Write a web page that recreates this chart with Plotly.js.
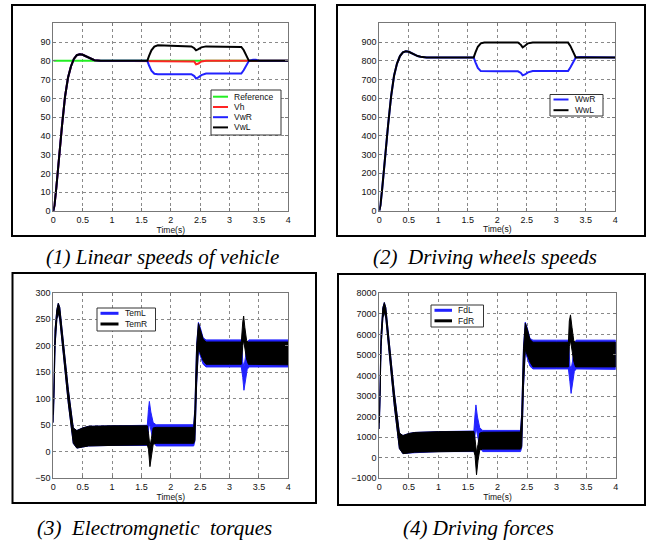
<!DOCTYPE html>
<html>
<head>
<meta charset="utf-8">
<script src="https://cdn.plot.ly/plotly-3.0.1.min.js"></script>
<style>html,body{margin:0;padding:0;background:#fff;}#chart{width:647px;height:540px;}</style>
</head>
<body>
<div id="chart"></div>
<script>
// ---------- DATA ----------
// (1) Linear speeds of vehicle
const spdTime = [0,0.02,0.05,0.1,0.15,0.2,0.25,0.3,0.35,0.4,0.45,0.5,0.55,0.6,0.65,0.7,0.8,1.0,1.6,1.63,1.67,1.72,1.78,2.0,2.35,2.4,2.43,2.47,2.52,2.6,3.0,3.2,3.24,3.28,3.33,3.4,3.45,3.5,4.0];
const refSpeed = [80,80,80,80,80,80,80,80,80,80,80,80,80,80,80,80,80,80,80,80,80,80,80,80,80,80,80,80,80,80,80,80,80,80,80,80,80,80,80];
const vh  = [0,3,12,30,46,61,71,77,81,83,83.5,83.2,82.4,81.5,80.8,80.3,80,80,80,80,80,80,80,80,80,79.6,78.2,78.6,79.7,80,80,80,80,80,80,80,80,80,80];
const vwR = [0,3,12,30,46,61,71,77,81,83,83.5,83.2,82.4,81.5,80.8,80.3,80,80,80,77.5,74.8,73.1,72.9,72.9,72.9,71.9,70.6,71.2,72.4,73.2,73.2,73.2,75,77.5,80,80.6,80.6,80,80];
const vwL = [0,3,12,30,46,61,71,77,81,83,83.5,83.2,82.4,81.5,80.8,80.3,80,80,80,82.6,85.6,87.6,88.3,88.1,87.7,86.7,85.6,86.2,87.2,87.7,87.6,87.4,85.8,83,80,80,80,80,80];
const speedNames = ["Reference","Vh","VwR","VwL"];

// (2) Driving wheels speeds
const wTime = [0,0.02,0.05,0.1,0.15,0.2,0.25,0.3,0.35,0.4,0.45,0.5,0.55,0.6,0.65,0.7,0.8,1.0,1.6,1.63,1.67,1.72,1.78,2.0,2.35,2.4,2.43,2.47,2.52,2.6,3.0,3.2,3.24,3.28,3.33,3.4,3.45,3.5,4.0];
const wwR = [0,30,120,300,460,610,720,785,825,845,851,848,840,832,825,821,818,818,818,792,762,745,744,744,744,735,722,727,738,745,745,745,765,792,818,820,820,818,818];
const wwL = [0,30,120,300,460,610,720,785,825,845,851,848,840,832,825,821,818,818,818,845,875,893,898,898,898,885,872,880,893,898,898,897,878,848,818,818,818,818,818];
const wheelNames = ["WwR","WwL"];

// (3) Electromagnetic torques (envelopes of the ripple band)
const temLTime  = [0,0.01,0.03,0.06,0.085,0.11,0.17,0.255,0.34,0.4,0.5,0.6,1.0,1.6,1.62,1.635,1.66,1.7,1.75,2.0,2.39,2.41,2.44,2.47,2.5,2.55,2.6,3.0,3.2,3.225,3.245,3.27,3.3,3.33,3.6,4.0];
const temLUpper = [70,150,230,268,280,272,210,118,45,40,45,48,49,50,80,95,75,55,51,51,51,82,202,244,235,215,211,211,211,170,160,178,205,211,211,211];
const temLLower = [55,120,200,250,262,250,185,92,16,7,9,11,12,12,40,55,40,20,11,11,11,20,128,192,180,165,160,160,160,140,116,135,155,160,160,160];
const temRTime  = [0,0.01,0.03,0.06,0.085,0.11,0.17,0.255,0.34,0.4,0.5,0.6,1.0,1.6,1.62,1.645,1.67,1.7,1.75,2.0,2.39,2.41,2.44,2.47,2.5,2.55,2.6,3.0,3.2,3.225,3.24,3.26,3.29,3.32,3.6,4.0];
const temRUpper = [70,150,230,268,280,272,210,118,45,40,45,48,49,49,35,10,25,45,46,46,46,80,200,242,232,213,207,207,207,245,256,235,210,207,207,207];
const temRLower = [55,120,200,250,262,250,185,92,16,7,9,11,12,13,5,-28,-5,14,16,16,16,22,130,195,185,172,165,165,165,200,210,200,175,165,164,164];
const torqueNames = ["TemL","TemR"];

// (4) Driving forces (envelopes of the ripple band)
const fdLTime  = [0,0.01,0.03,0.06,0.085,0.11,0.17,0.255,0.34,0.4,0.5,0.6,1.0,1.6,1.62,1.635,1.66,1.7,1.75,2.0,2.39,2.41,2.44,2.47,2.5,2.55,2.6,3.0,3.2,3.225,3.245,3.27,3.3,3.33,3.6,4.0];
const fdLUpper = [1700,3500,6000,7300,7550,7300,5650,3150,1200,1080,1180,1230,1270,1300,2100,2570,2000,1450,1330,1330,1330,2200,5400,6600,6350,5800,5720,5720,5720,4500,4300,4700,5500,5720,5720,5720];
const fdLLower = [1400,3000,5400,6800,7100,6800,5000,2500,450,200,230,270,300,300,1100,1500,1100,500,300,300,300,500,3400,5150,4900,4450,4320,4320,4320,3700,3130,3600,4200,4320,4300,4300];
const fdRTime  = [0,0.01,0.03,0.06,0.085,0.11,0.17,0.255,0.34,0.4,0.5,0.6,1.0,1.6,1.62,1.645,1.67,1.7,1.75,2.0,2.39,2.41,2.44,2.47,2.5,2.55,2.6,3.0,3.2,3.215,3.235,3.26,3.29,3.32,3.6,4.0];
const fdRUpper = [1700,3500,6000,7300,7550,7300,5650,3150,1200,1080,1180,1230,1270,1280,900,250,650,1200,1240,1250,1250,2100,5300,6550,6300,5750,5620,5620,5620,6650,6950,6350,5700,5620,5620,5620];
const fdRLower = [1400,3000,5400,6800,7100,6800,5000,2500,450,200,230,270,300,320,100,-830,-150,380,420,420,420,560,3500,5250,5000,4650,4420,4420,4420,5400,5700,5400,4700,4420,4420,4420];
const forceNames = ["FdL","FdR"];

// tick labels
const timeTicks = [0,0.5,1,1.5,2,2.5,3,3.5,4];
const timeTickText = ["0","0.5","1","1.5","2","2.5","3","3.5","4"];
const spdTicks = [0,10,20,30,40,50,60,70,80,90];
const wTicks = [0,100,200,300,400,500,600,700,800,900];
const temTicks = [-50,0,50,100,150,200,250,300];
const fdTicks = [-1000,0,1000,2000,3000,4000,5000,6000,7000,8000];
const captions = ["(1) Linear speeds of vehicle","(2)\u00a0 Driving wheels speeds","(3)\u00a0 Electromgnetic\u00a0 torques","(4) Driving forces"];

// ---------- STYLE / LAYOUT ----------
const W = 647, H = 540;
const px = x => x / W;
const py = y => 1 - y / H;
const GREEN = '#22ee22', RED = '#ff2424', BLUE = '#2222ff', BLACK = '#000000';

function lineTrace(x, y, name, color, xa, ya) {
  return {type:'scatter', mode:'lines', x:x, y:y, name:name, line:{color:color, width:2},
          showlegend:false, xaxis:xa, yaxis:ya, hoverinfo:'skip'};
}
function bandTrace(t, up, lo, name, color, xa, ya) {
  return {type:'scatter', mode:'lines', x:t.concat(t.slice().reverse()), y:up.concat(lo.slice().reverse()),
          fill:'toself', fillcolor:color, line:{color:color, width:1}, name:name,
          showlegend:false, xaxis:xa, yaxis:ya, hoverinfo:'skip'};
}

const traces = [
  lineTrace(spdTime, refSpeed, speedNames[0], GREEN, 'x', 'y'),
  lineTrace(spdTime, vh, speedNames[1], RED, 'x', 'y'),
  lineTrace(spdTime, vwR, speedNames[2], BLUE, 'x', 'y'),
  lineTrace(spdTime, vwL, speedNames[3], BLACK, 'x', 'y'),
  lineTrace(wTime, wwR, wheelNames[0], BLUE, 'x2', 'y2'),
  lineTrace(wTime, wwL, wheelNames[1], BLACK, 'x2', 'y2'),
  bandTrace(temLTime, temLUpper, temLLower, torqueNames[0], BLUE, 'x3', 'y3'),
  bandTrace(temRTime, temRUpper, temRLower, torqueNames[1], BLACK, 'x3', 'y3'),
  bandTrace(fdLTime, fdLUpper, fdLLower, forceNames[0], BLUE, 'x4', 'y4'),
  bandTrace(fdRTime, fdRUpper, fdRLower, forceNames[1], BLACK, 'x4', 'y4')
];

const tickFont = {family:'Liberation Sans, Arial, sans-serif', size:9, color:'#111'};
function xAxis(d, anchor) {
  return {domain:[px(d[0]), px(d[1])], anchor:anchor, range:[0,4], tickvals:timeTicks, ticktext:timeTickText,
          showgrid:true, griddash:'dot', gridcolor:'#8a8a8a', gridwidth:1, zeroline:false,
          showline:true, linecolor:'#777', linewidth:1, mirror:'ticks', ticks:'inside', ticklen:3, tickcolor:'#777',
          tickfont:tickFont, fixedrange:true,
          title:{text:'Time(s)', font:{family:'Liberation Sans, Arial, sans-serif', size:8.5, color:'#111'}, standoff:1}};
}
function yAxis(d, anchor, range, ticks) {
  return {domain:[py(d[1]), py(d[0])], anchor:anchor, range:range, tickvals:ticks,
          showgrid:true, griddash:'dot', gridcolor:'#8a8a8a', gridwidth:1, zeroline:false,
          showline:true, linecolor:'#777', linewidth:1, mirror:'ticks', ticks:'inside', ticklen:3, tickcolor:'#777',
          tickfont:tickFont, fixedrange:true};
}

const shapes = [];
const annotations = [];
// panel frames
[[12,5,315,236],[337,5,645,236],[12.5,273,316,503],[338,274,645,505]].forEach(f => {
  shapes.push({type:'rect', xref:'paper', yref:'paper', x0:px(f[0]), x1:px(f[2]), y0:py(f[3]), y1:py(f[1]),
               line:{color:'#000', width:2}, fillcolor:'rgba(0,0,0,0)'});
});
// captions
[[162,257],[485,257],[154,528],[478,528]].forEach((c, i) => {
  annotations.push({xref:'paper', yref:'paper', x:px(c[0]), y:py(c[1]), text:'<i>' + captions[i] + '</i>',
                    showarrow:false, xanchor:'center', yanchor:'middle',
                    font:{family:'Liberation Serif, Times New Roman, serif', size:21, color:'#000'}});
});
// MATLAB-style legends
function legendBox(names, colors, box, rows, lx0, lx1, tx, lw) {
  shapes.push({type:'rect', xref:'paper', yref:'paper', x0:px(box[0]), x1:px(box[2]), y0:py(box[3]), y1:py(box[1]),
               line:{color:'#333', width:1}, fillcolor:'#fff', layer:'above'});
  names.forEach((n, i) => {
    shapes.push({type:'line', xref:'paper', yref:'paper', x0:px(lx0), x1:px(lx1), y0:py(rows[i]), y1:py(rows[i]),
                 line:{color:colors[i], width:lw}, layer:'above'});
    annotations.push({xref:'paper', yref:'paper', x:px(tx), y:py(rows[i]), text:n, showarrow:false,
                      xanchor:'left', yanchor:'middle',
                      font:{family:'Liberation Sans, Arial, sans-serif', size:8.5, color:'#111'}});
  });
}
legendBox(speedNames, [GREEN, RED, BLUE, BLACK], [211,90,281,135], [96.7,107,117.2,127.4], 213, 228, 232, 2);
legendBox(wheelNames, [BLUE, BLACK], [550,94.5,603,116], [99.5,110.2], 553.5, 568.5, 573, 2);
legendBox(torqueNames, [BLUE, BLACK], [97,308,155.5,331], [313.3,324], 100.5, 118.5, 122.5, 3);
legendBox(forceNames, [BLUE, BLACK], [431,305,483.5,327], [310.3,320.8], 434.5, 452, 456, 3);

const layout = {
  width:W, height:H, margin:{l:0, r:0, t:0, b:0}, paper_bgcolor:'#fff', plot_bgcolor:'#fff', showlegend:false,
  xaxis: xAxis([53.3,288.3], 'y'),
  yaxis: yAxis([23.3,211], 'x', [0,100], spdTicks),
  xaxis2: xAxis([379.3,615.3], 'y2'),
  yaxis2: yAxis([23.3,210.7], 'x2', [0,1000], wTicks),
  xaxis3: xAxis([53.3,288.3], 'y3'),
  yaxis3: yAxis([292.7,478.3], 'x3', [-50,300], temTicks),
  xaxis4: xAxis([379.3,615.7], 'y4'),
  yaxis4: yAxis([293.3,478.3], 'x4', [-1000,8000], fdTicks),
  shapes:shapes, annotations:annotations
};

Plotly.newPlot('chart', traces, layout, {staticPlot:true, displayModeBar:false});
</script>
</body>
</html>
